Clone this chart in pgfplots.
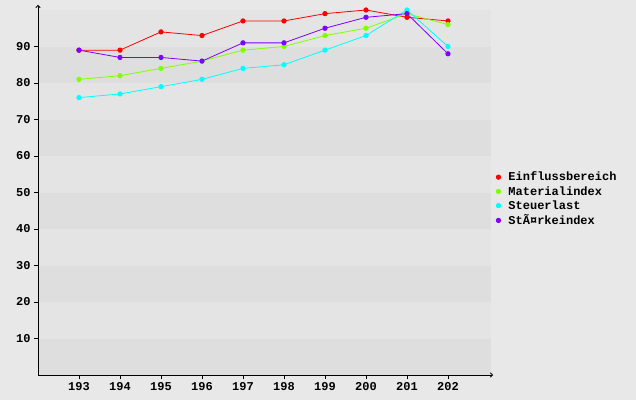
\documentclass[border=0pt]{standalone}
\usepackage{fontspec}
\setmainfont{Liberation Mono}
\usepackage{pgfplots}
\pgfplotsset{compat=1.18}
\usetikzlibrary{arrows.meta}
\definecolor{outerbg}{HTML}{E8E8E8}
\definecolor{bandlight}{HTML}{E4E4E4}
\definecolor{banddark}{HTML}{DEDEDE}
\definecolor{cRed}{HTML}{FF0000}
\definecolor{cGreen}{HTML}{80FF00}
\definecolor{cCyan}{HTML}{00FFFF}
\definecolor{cPurple}{HTML}{8000FF}
\begin{document}
\begin{tikzpicture}[x=1pt,y=1pt]
\fill[outerbg] (0,0) rectangle (636,400);
\useasboundingbox (0,0) rectangle (636,400);
\begin{axis}[
  at={(38pt,25pt)}, anchor=origin,
  scale only axis, width=453pt, height=365pt,
  xmin=192, xmax=203.05, ymin=0, ymax=100,
  axis lines=left, axis on top,
  x axis line style={-{To[length=3pt,width=5pt]}, shorten >=-2pt, line width=0.8pt, black},
  y axis line style={-{To[length=3pt,width=5pt]}, shorten >=-5pt, line width=0.8pt, black},
  xtick={193,...,202}, ytick={10,20,...,90},
  tick align=outside, major tick length=4pt,
  tick style={black, line width=0.6pt},
  /pgf/number format/assume math mode=true,
  /pgf/number format/1000 sep={},
  ticklabel style={font=\fontsize{12}{14}\selectfont\bfseries},
  clip=false,
  legend style={draw=none, fill=none, at={(1.005,0.482)}, anchor=west,
    font=\fontsize{12}{14}\selectfont\bfseries, row sep=1pt, inner sep=1pt,
    nodes={inner ysep=1.5pt}},
  legend cell align=left,
  legend image code/.code={\path[draw=none,fill=none,use as bounding box] (0pt,-1pt) rectangle (12pt,1pt); \draw[only marks] plot coordinates {(4pt,0pt)};},
  every axis plot/.append style={line width=0.8pt, mark=*, mark size=2.2pt},
]
\pgfplotsinvokeforeach{0,2,4,6,8}{
  \fill[banddark] (axis cs:192,#1*10) rectangle (axis cs:203.05,#1*10+10);
}
\pgfplotsinvokeforeach{1,3,5,7,9}{
  \fill[bandlight] (axis cs:192,#1*10) rectangle (axis cs:203.05,#1*10+10);
}
\addplot[cRed, mark options={fill=cRed}] coordinates {(193,89) (194,89) (195,94) (196,93) (197,97) (198,97) (199,99) (200,100) (201,98) (202,97)};
\addlegendentry{Einflussbereich}
\addplot[cGreen, mark options={fill=cGreen}] coordinates {(193,81) (194,82) (195,84) (196,86) (197,89) (198,90) (199,93) (200,95) (201,99) (202,96)};
\addlegendentry{Materialindex}
\addplot[cCyan, mark options={fill=cCyan}] coordinates {(193,76) (194,77) (195,79) (196,81) (197,84) (198,85) (199,89) (200,93) (201,100) (202,90)};
\addlegendentry{Steuerlast}
\addplot[cPurple, mark options={fill=cPurple}] coordinates {(193,89) (194,87) (195,87) (196,86) (197,91) (198,91) (199,95) (200,98) (201,99) (202,88)};
\addlegendentry{StÃ¤rkeindex}
\end{axis}
\end{tikzpicture}
\end{document}
